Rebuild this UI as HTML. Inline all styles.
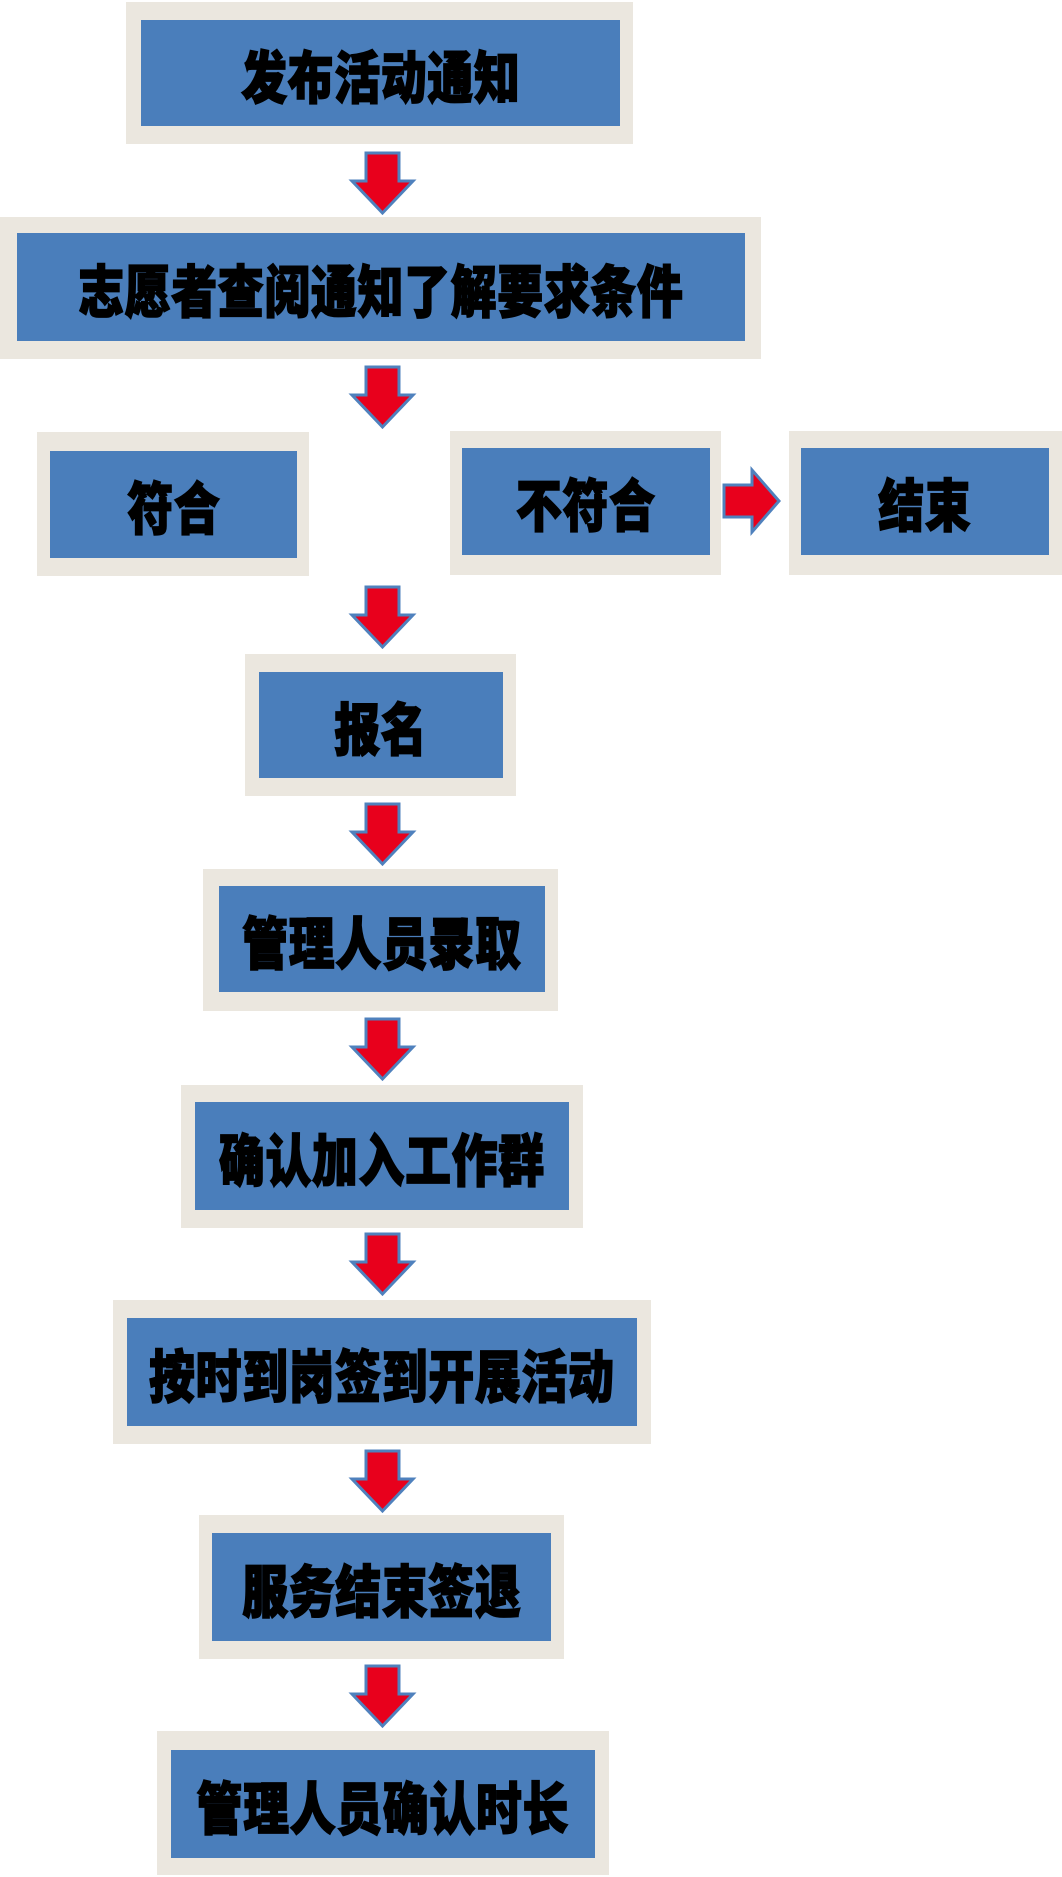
<!DOCTYPE html>
<html><head><meta charset="utf-8"><style>
body{margin:0;width:1062px;height:1877px;background:#fff;position:relative;overflow:hidden}
.o{position:absolute;background:#ebe7df}
.i{position:absolute;background:#4a7ebb;display:flex;align-items:center;justify-content:center;font-family:"Liberation Sans","Noto Sans CJK SC",sans-serif;font-weight:900;font-size:47px;color:#000;-webkit-text-stroke:1.5px #000;letter-spacing:1px;white-space:nowrap}
.i span{display:inline-block;transform:scale(0.97,1.2)}
svg{position:absolute;left:0;top:0}
</style></head><body>
<div class="o" style="left:126px;top:2px;width:507px;height:142px"></div>
<div class="i" style="left:141px;top:20px;width:479px;height:106px"><span>发布活动通知</span></div>
<div class="o" style="left:0;top:217px;width:761px;height:142px"></div>
<div class="i" style="left:17px;top:233px;width:728px;height:108px"><span>志愿者查阅通知了解要求条件</span></div>
<div class="o" style="left:37px;top:432px;width:272px;height:144px"></div>
<div class="i" style="left:50px;top:451px;width:247px;height:107px"><span>符合</span></div>
<div class="o" style="left:450px;top:431px;width:271px;height:144px"></div>
<div class="i" style="left:462px;top:448px;width:248px;height:107px"><span>不符合</span></div>
<div class="o" style="left:789px;top:431px;width:273px;height:144px"></div>
<div class="i" style="left:801px;top:448px;width:248px;height:107px"><span>结束</span></div>
<div class="o" style="left:245px;top:654px;width:271px;height:142px"></div>
<div class="i" style="left:259px;top:672px;width:244px;height:106px"><span>报名</span></div>
<div class="o" style="left:203px;top:869px;width:355px;height:142px"></div>
<div class="i" style="left:219px;top:886px;width:326px;height:106px"><span>管理人员录取</span></div>
<div class="o" style="left:181px;top:1085px;width:402px;height:143px"></div>
<div class="i" style="left:195px;top:1102px;width:374px;height:108px"><span>确认加入工作群</span></div>
<div class="o" style="left:113px;top:1300px;width:538px;height:144px"></div>
<div class="i" style="left:127px;top:1318px;width:510px;height:108px"><span>按时到岗签到开展活动</span></div>
<div class="o" style="left:199px;top:1515px;width:365px;height:144px"></div>
<div class="i" style="left:212px;top:1533px;width:339px;height:108px"><span>服务结束签退</span></div>
<div class="o" style="left:157px;top:1731px;width:452px;height:144px"></div>
<div class="i" style="left:171px;top:1750px;width:424px;height:108px"><span>管理人员确认时长</span></div>
<svg width="1062" height="1877">
<defs><g id="d"><polygon points="18,0 51,0 51,28 65,28 34.5,60 4,28 18,28" fill="#e8001c" stroke="#4f81bd" stroke-width="3"/></g></defs>
<use href="#d" x="348" y="153"/>
<use href="#d" x="348" y="367"/>
<use href="#d" x="348" y="587"/>
<use href="#d" x="348" y="804"/>
<use href="#d" x="348" y="1019"/>
<use href="#d" x="348" y="1234"/>
<use href="#d" x="348" y="1451"/>
<use href="#d" x="348" y="1666"/>
<polygon points="724,485 752,485 752,470 779,501 752,532 752,517 724,517" fill="#e8001c" stroke="#4f81bd" stroke-width="3"/>
</svg>
</body></html>
